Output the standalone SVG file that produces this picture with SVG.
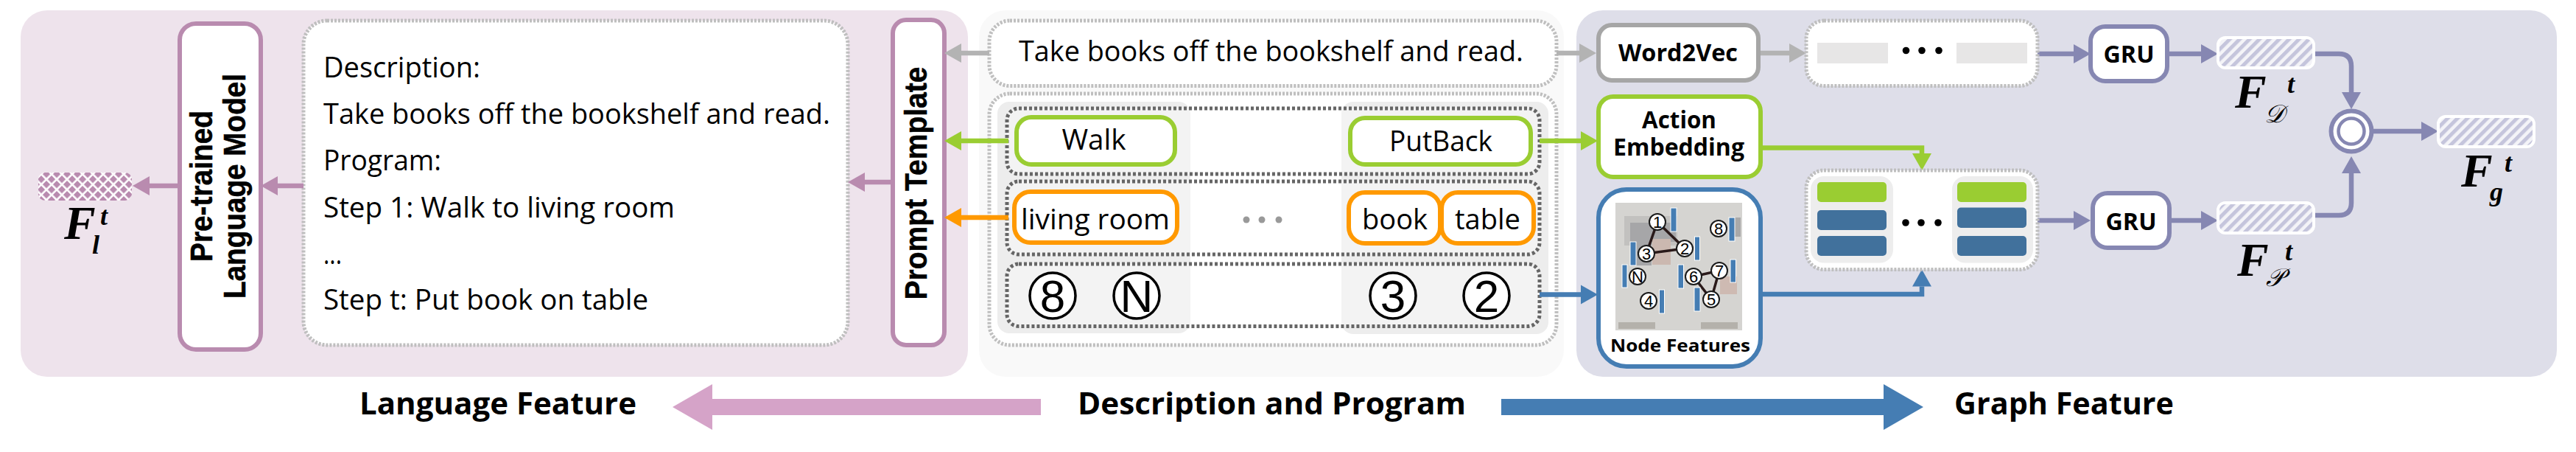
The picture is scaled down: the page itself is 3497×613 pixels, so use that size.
<svg xmlns="http://www.w3.org/2000/svg" width="3497" height="613" viewBox="0 0 3497 613">
<style>
text{font-family:"Open Sans","Noto Sans","Liberation Sans",sans-serif;fill:#000}
.b{font-weight:700}
.t38{font-size:38px}
.t33{font-size:33px;font-weight:700}
.t42{font-size:42px;font-weight:700}
.rot{font-family:"Liberation Sans",Arial,sans-serif;font-size:43px;font-weight:700;stroke:#000;stroke-width:.5}
.box{fill:#fff;stroke-width:6}
.grayb{stroke:#A6A6A6}.greenb{stroke:#9ACD32}.orangeb{stroke:#FF9900}.pinkb{stroke:#B98BAF}.purpleb{stroke:#8687B2}.blueb{stroke:#457DB3}
.dotl{fill:#fff;stroke:#BFBFBF;stroke-width:5;stroke-dasharray:3 2}
.dotn{fill:#fff;fill-opacity:.35;stroke:#666;stroke-width:5;stroke-dasharray:4 3}
.col{fill:#EDEDED}
.c{fill:none;stroke-width:6.5}
.F{font-family:"Liberation Serif",serif;font-weight:700;font-style:italic;font-size:64px}
.s{font-family:"Liberation Serif",serif;font-weight:700;font-style:italic;font-size:36px}
.sc{font-family:"DejaVu Serif","Liberation Serif",serif;font-style:italic;font-size:34px}
.n{fill:#fff;stroke:#000;stroke-width:3.5}
.big{font-size:62px;text-anchor:middle;font-family:"Liberation Sans",sans-serif}
.gn{fill:#fff;stroke:#1a1a1a;stroke-width:2}
.gt{font-size:22px;text-anchor:middle;font-family:"Liberation Sans",sans-serif}
.bar{fill:#457DB3;stroke:#fff;stroke-width:1}
.edge{stroke:#2a1a1a;stroke-width:3.5}
.green{fill:#9ACD32}.steel{fill:#41719C}
.hatch{fill:url(#diag);stroke:#fff;stroke-width:4}
</style>
<defs>
<marker id="agray" markerUnits="userSpaceOnUse" markerWidth="24" markerHeight="28" refX="0" refY="14" orient="auto"><path d="M0,1L23,14L0,27z" fill="#B3B3B3"/></marker>
<marker id="agreen" markerUnits="userSpaceOnUse" markerWidth="24" markerHeight="28" refX="0" refY="14" orient="auto"><path d="M0,1L23,14L0,27z" fill="#9ACD32"/></marker>
<marker id="aorange" markerUnits="userSpaceOnUse" markerWidth="24" markerHeight="28" refX="0" refY="14" orient="auto"><path d="M0,1L23,14L0,27z" fill="#FF9900"/></marker>
<marker id="apink" markerUnits="userSpaceOnUse" markerWidth="24" markerHeight="28" refX="0" refY="14" orient="auto"><path d="M0,1L23,14L0,27z" fill="#B98BAF"/></marker>
<marker id="ablue" markerUnits="userSpaceOnUse" markerWidth="24" markerHeight="28" refX="0" refY="14" orient="auto"><path d="M0,1L23,14L0,27z" fill="#457DB3"/></marker>
<marker id="apurple" markerUnits="userSpaceOnUse" markerWidth="24" markerHeight="28" refX="0" refY="14" orient="auto"><path d="M0,1L23,14L0,27z" fill="#8687B2"/></marker>
<pattern id="diag" patternUnits="userSpaceOnUse" width="9.5" height="9.5" patternTransform="rotate(45)"><rect width="9.500" height="9.500" fill="#F4F4F8"/><rect width="5" height="9.500" fill="#C5C5DC"/></pattern>
<pattern id="cross" patternUnits="userSpaceOnUse" width="9.900" height="9.900" patternTransform="rotate(45)"><rect width="9.900" height="9.900" fill="#fff"/><rect width="7.300" height="7.300" fill="#B98BAF"/></pattern>
</defs>

<g id="panels">
<rect x="28" y="14" width="1286" height="497" rx="36" fill="#EEE3EC"/>
<rect x="1329" y="14" width="794" height="497" rx="36" fill="#F9F9F9"/>
<rect x="2140" y="14" width="1331" height="497" rx="36" fill="#DEDEE9"/>
</g>

<g id="language-panel-nodes">
<g id="F-l"><rect x="52" y="234" width="127" height="38" rx="9" fill="url(#cross)"/>
<text class="F" x="87" y="324">F</text><text class="s" x="136" y="305">t</text><text class="s" x="125" y="344">l</text></g>
<g id="pretrained"><rect class="box pinkb" x="244" y="32" width="110" height="442" rx="22"/>
<text class="rot" transform="translate(288,355) rotate(-90)" textLength="205" lengthAdjust="spacingAndGlyphs">Pre-trained</text>
<text class="rot" transform="translate(332.5,405) rotate(-90)" textLength="305" lengthAdjust="spacingAndGlyphs">Language Model</text></g>
<g id="prompt-text"><rect class="dotl" x="412" y="28" width="739" height="440" rx="32"/>
<text class="t38" x="439" y="105" textLength="213" lengthAdjust="spacingAndGlyphs">Description:</text>
<text class="t38" x="439" y="168" textLength="688" lengthAdjust="spacingAndGlyphs">Take books off the bookshelf and read.</text>
<text class="t38" x="439" y="231" textLength="160" lengthAdjust="spacingAndGlyphs">Program:</text>
<text class="t38" x="439" y="295" textLength="477" lengthAdjust="spacingAndGlyphs">Step 1: Walk to living room</text>
<text class="t38" x="439" y="358" textLength="25" lengthAdjust="spacingAndGlyphs">...</text>
<text class="t38" x="439" y="420" textLength="441" lengthAdjust="spacingAndGlyphs">Step t: Put book on table</text></g>
<g id="prompt-template"><rect class="box pinkb" x="1212" y="27" width="70" height="441" rx="18"/>
<text class="rot" transform="translate(1258,406.5) rotate(-90)" textLength="316" lengthAdjust="spacingAndGlyphs">Prompt Template</text></g>
</g>

<g id="middle-panel-nodes">
<g id="description"><rect class="dotl" x="1343" y="28" width="770" height="88.5" rx="28"/>
<text class="t38" x="1383" y="83" textLength="685" lengthAdjust="spacingAndGlyphs">Take books off the bookshelf and read.</text></g>
<g id="program"><rect class="dotl" x="1343" y="127" width="770" height="341" rx="28"/>
<rect class="col" x="1354" y="138" width="262" height="314" rx="16"/>
<rect class="col" x="1821" y="138" width="281" height="315" rx="16"/>
<rect class="dotn" x="1367" y="147" width="723" height="89" rx="16"/>
<rect class="dotn" x="1367" y="246" width="723" height="99" rx="16"/>
<rect class="dotn" x="1367" y="358" width="723" height="84.5" rx="16"/></g>
<g id="walk"><rect class="box greenb" x="1380" y="159" width="215" height="64" rx="20"/><text class="t38" x="1441.5" y="202.5" textLength="87" lengthAdjust="spacingAndGlyphs">Walk</text></g>
<g id="putback"><rect class="box greenb" x="1833" y="160" width="245" height="63" rx="20"/><text class="t38" x="1886" y="205" textLength="140" lengthAdjust="spacingAndGlyphs">PutBack</text></g>
<g id="living-room"><rect class="box orangeb" x="1377" y="260" width="221" height="69" rx="22"/><text class="t38" x="1386" y="311" textLength="202" lengthAdjust="spacingAndGlyphs">living room</text></g>
<g id="book"><rect class="box orangeb" x="1831" y="261" width="124" height="69" rx="22"/><text class="t38" x="1849" y="311" textLength="89" lengthAdjust="spacingAndGlyphs">book</text></g>
<g id="table"><rect class="box orangeb" x="1957" y="261" width="125" height="69" rx="22"/><text class="t38" x="1975" y="311" textLength="89" lengthAdjust="spacingAndGlyphs">table</text></g>
<g id="mid-dots" fill="#999"><circle cx="1692" cy="298" r="4.5"/><circle cx="1713" cy="298" r="4.5"/><circle cx="1736" cy="298" r="4.5"/></g>
<g id="n8"><circle class="n" cx="1429" cy="401" r="31"/><text class="big" x="1429" y="423">8</text></g>
<g id="nN"><circle class="n" cx="1543" cy="401" r="31"/><text class="big" x="1543" y="423">N</text></g>
<g id="n3"><circle class="n" cx="1891" cy="401" r="31"/><text class="big" x="1891" y="423">3</text></g>
<g id="n2"><circle class="n" cx="2018" cy="401" r="31"/><text class="big" x="2018" y="423">2</text></g>
</g>

<g id="connectors" class="c">
<path d="M1343 72H1305" stroke="#B3B3B3" class="c" marker-end="url(#agray)"/>
<path d="M2113 72H2144" stroke="#B3B3B3" class="c" marker-end="url(#agray)"/>
<path d="M2387 72H2429" stroke="#B3B3B3" class="c" marker-end="url(#agray)"/>
<path d="M1369 191H1305" stroke="#9ACD32" class="c" marker-end="url(#agreen)"/>
<path d="M2090 191H2146" stroke="#9ACD32" class="c" marker-end="url(#agreen)"/>
<path d="M1369 295H1305" stroke="#FF9900" class="c" marker-end="url(#aorange)"/>
<path d="M2090 399.5H2146" stroke="#457DB3" class="c" marker-end="url(#ablue)"/>
<path d="M243 252H203" stroke="#B98BAF" class="c" marker-end="url(#apink)"/>
<path d="M412 252H377" stroke="#B98BAF" class="c" marker-end="url(#apink)"/>
<path d="M1212 247H1174" stroke="#B98BAF" class="c" marker-end="url(#apink)"/>
<path d="M2390 200.5H2609V208" stroke="#9ACD32" class="c" marker-end="url(#agreen)"/>
<path d="M2390 399H2609V388.5" stroke="#457DB3" class="c" marker-end="url(#ablue)"/>
<path d="M2766 73H2815" stroke="#8687B2" class="c" marker-end="url(#apurple)"/>
<path d="M2942 73H2988" stroke="#8687B2" class="c" marker-end="url(#apurple)"/>
<path d="M3142 73H3175Q3192 73 3192 90V125" stroke="#8687B2" class="c" marker-end="url(#apurple)"/>
<path d="M2766 299H2815" stroke="#8687B2" class="c" marker-end="url(#apurple)"/>
<path d="M2945 299H2988" stroke="#8687B2" class="c" marker-end="url(#apurple)"/>
<path d="M3142 292H3175Q3192 292 3192 275V235" stroke="#8687B2" class="c" marker-end="url(#apurple)"/>
<path d="M3222 178H3287" stroke="#8687B2" class="c" marker-end="url(#apurple)"/>
</g>

<g id="graph-panel-nodes">
<g id="word2vec"><rect class="box grayb" x="2170" y="34" width="217" height="75" rx="18"/><text class="t33" x="2197" y="83" textLength="162" lengthAdjust="spacingAndGlyphs">Word2Vec</text></g>
<g id="action-embedding"><rect class="box greenb" x="2170" y="131" width="220" height="109" rx="20"/>
<text class="t33" x="2229" y="174" textLength="101" lengthAdjust="spacingAndGlyphs">Action</text>
<text class="t33" x="2190" y="211" textLength="178" lengthAdjust="spacingAndGlyphs">Embedding</text></g>
<g id="node-features"><rect class="box blueb" x="2170" y="257" width="220" height="240" rx="38"/>
<rect x="2193" y="275" width="172" height="173" fill="#D5D4D1"/>
<rect x="2205" y="293" width="72" height="40" fill="#C2C1BF"/>
<rect x="2213" y="302" width="62" height="26" fill="#A6A6A8"/>
<rect x="2213" y="328" width="29" height="32" fill="#A6A6A8"/>
<rect x="2243" y="324" width="25" height="35" fill="#CBB8B0"/>
<rect x="2335" y="375" width="23" height="24" fill="#CEBAB2"/>
<rect x="2354" y="295" width="9" height="26" fill="#A9A9A9"/>
<rect x="2197" y="437" width="50" height="9" fill="#B4B1AB"/>
<rect x="2309" y="437" width="50" height="9" fill="#B4B1AB"/>
<g class="edge"><path d="M2250 301L2287 337L2235 344Z" fill="none"/><path d="M2299 375L2334 367L2323 406Z" fill="none"/></g>
<g><rect class="bar" x="2268" y="282" width="8" height="32"/><rect class="bar" x="2300.500" y="321" width="7" height="32"/><rect class="bar" x="2213" y="328" width="8" height="32"/><rect class="bar" x="2202" y="359" width="7" height="31"/><rect class="bar" x="2278" y="359" width="7.500" height="32"/><rect class="bar" x="2252.500" y="393" width="7" height="32"/><rect class="bar" x="2300" y="390" width="8" height="32"/><rect class="bar" x="2349" y="352" width="7.500" height="31"/><rect class="bar" x="2347" y="295" width="8" height="32"/></g>
<circle class="gn" cx="2250" cy="301" r="11"/><text class="gt" x="2250" y="309">1</text>
<circle class="gn" cx="2287" cy="337" r="11"/><text class="gt" x="2287" y="345">2</text>
<circle class="gn" cx="2235" cy="344" r="11"/><text class="gt" x="2235" y="352">3</text>
<circle class="gn" cx="2333" cy="310" r="11"/><text class="gt" x="2333" y="318">8</text>
<circle class="gn" cx="2223" cy="375" r="11"/><text class="gt" x="2223" y="383">N</text>
<circle class="gn" cx="2299" cy="375" r="11"/><text class="gt" x="2299" y="383">6</text>
<circle class="gn" cx="2334" cy="367" r="11"/><text class="gt" x="2334" y="375">7</text>
<circle class="gn" cx="2238" cy="408" r="11"/><text class="gt" x="2238" y="416">4</text>
<circle class="gn" cx="2323" cy="406" r="11"/><text class="gt" x="2323" y="414">5</text>
<text class="b" font-size="24" x="2186" y="477" textLength="190" lengthAdjust="spacingAndGlyphs">Node Features</text></g>
<g id="desc-embed"><rect class="dotl" x="2452" y="28" width="314" height="88.500" rx="24"/>
<rect x="2467" y="58" width="96" height="28" fill="#E7E6E6"/><rect x="2656" y="58" width="96" height="28" fill="#E7E6E6"/>
<circle cx="2587.500" cy="68.500" r="4.800"/><circle cx="2609" cy="68.500" r="4.800"/><circle cx="2632" cy="68.500" r="4.800"/></g>
<g id="prog-embed"><rect class="dotl" x="2452" y="231" width="314" height="134.500" rx="24"/>
<rect class="col" x="2458" y="239" width="112" height="117.500" rx="18"/><rect class="col" x="2650" y="239" width="110" height="117.500" rx="18"/>
<rect class="green" x="2467" y="247" width="94" height="27" rx="5"/><rect class="steel" x="2467" y="285" width="94" height="27" rx="5"/><rect class="steel" x="2467" y="320" width="94" height="27" rx="5"/>
<rect class="green" x="2657" y="247" width="94" height="27" rx="5"/><rect class="steel" x="2657" y="281.500" width="94" height="27.500" rx="5"/><rect class="steel" x="2657" y="320" width="94" height="27" rx="5"/>
<circle cx="2587" cy="302" r="4.800"/><circle cx="2608" cy="302" r="4.800"/><circle cx="2631" cy="302" r="4.800"/></g>
<g id="gru1"><rect class="box purpleb" x="2838" y="36" width="104" height="74" rx="20"/><text class="t33" x="2855.500" y="85" textLength="69" lengthAdjust="spacingAndGlyphs">GRU</text></g>
<g id="gru2"><rect class="box purpleb" x="2841" y="262" width="104" height="74" rx="20"/><text class="t33" x="2858.500" y="311.500" textLength="69" lengthAdjust="spacingAndGlyphs">GRU</text></g>
<g id="F-D"><rect class="hatch" x="3011" y="51" width="130" height="41" rx="10"/>
<text class="F" x="3034" y="146">F</text><text class="s" x="3105" y="126">t</text><text class="sc" x="3074" y="166">𝒟</text></g>
<g id="F-P"><rect class="hatch" x="3011" y="275" width="130" height="41" rx="10"/>
<text class="F" x="3037" y="374">F</text><text class="s" x="3102" y="353">t</text><text class="sc" x="3076" y="388">𝒫</text></g>
<g id="F-g"><rect class="hatch" x="3310" y="158" width="130" height="41" rx="10"/>
<text class="F" x="3341" y="253">F</text><text class="s" x="3400" y="233">t</text><text class="s" x="3380" y="272">g</text></g>
<g id="fusion"><circle cx="3192" cy="178" r="27.500" fill="#fff" stroke="#8687B2" stroke-width="6"/><circle cx="3192" cy="178" r="17.500" fill="#fff" stroke="#8687B2" stroke-width="4.500"/></g>
</g>

<g id="bottom">
<path d="M1413 541H967V521L913 552L967 583V563H1413Z" fill="#D5A3C8"/>
<path d="M2038 541H2557V521L2611 552L2557 583V563H2038Z" fill="#457DB3"/>
<text class="t42" x="488" y="562" textLength="376" lengthAdjust="spacingAndGlyphs">Language Feature</text>
<text class="t42" x="1463" y="562" textLength="527" lengthAdjust="spacingAndGlyphs">Description and Program</text>
<text class="t42" x="2653" y="562" textLength="298" lengthAdjust="spacingAndGlyphs">Graph Feature</text>
</g>
</svg>
